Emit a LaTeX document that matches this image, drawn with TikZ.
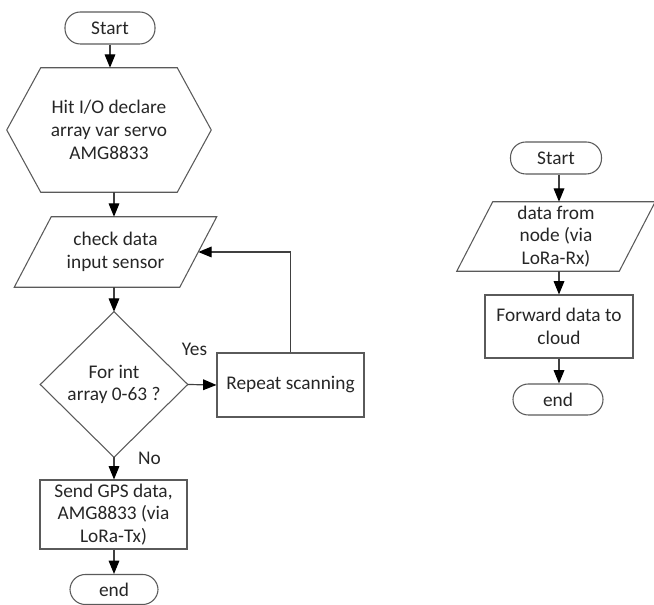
\documentclass[tikz,border=0pt]{standalone}
\usepackage{fontspec}
\setmainfont{Carlito}
\usetikzlibrary{arrows.meta,calc}
\definecolor{edge}{HTML}{5A5A5A}
\definecolor{txt}{HTML}{262626}
\definecolor{arrline}{HTML}{404040}
\tikzset{
  base/.style={font=\fontsize{14.5}{17}\selectfont, text=txt, align=center, inner sep=0pt},
  term/.style={base, draw=edge, line width=0.8pt, rounded corners=11.5pt},
  box/.style={base, draw=edge, line width=0.8pt},
  ghost/.style={base},
  shapeline/.style={draw=edge, line width=0.8pt},
  arr/.style={draw=arrline, line width=0.9pt, -{Triangle[length=10pt,width=8pt,color=black]}}
}
\begin{document}
\begin{tikzpicture}[x=0.75pt,y=-0.75pt]
\useasboundingbox (0,0) rectangle (654,605);
% left column
\node[term, minimum width=67.5pt, minimum height=24pt] (s1) at (110,28) {Start};
\node[ghost, minimum width=102pt, minimum height=93pt] (hex) at (109,130) {Hit I/O declare\\array var servo\\AMG8833};
\draw[shapeline] (hex.north west) -- (hex.north east) -- ($(hex.east)+(34,0)$) -- (hex.south east) -- (hex.south west) -- ($(hex.west)+(-34,0)$) -- cycle;
\node[ghost, minimum width=123.75pt, minimum height=52.5pt] (p1) at (115.5,252) {check data\\input sensor};
\draw[shapeline] ($(p1.north west)+(18.5,0)$) -- ($(p1.north east)+(18.5,0)$) -- ($(p1.south east)+(-18.5,0)$) -- ($(p1.south west)+(-18.5,0)$) -- cycle;
\node[ghost, minimum width=110.25pt, minimum height=108.75pt] (d) at (114,384.5) {For int\\array 0-63 ?};
\draw[shapeline] (d.north) -- (d.east) -- (d.south) -- (d.west) -- cycle;
\node[box, minimum width=110.25pt, minimum height=48pt] (r) at (290.5,385) {Repeat scanning};
\node[box, minimum width=110.25pt, minimum height=51.75pt] (g) at (113.5,514.5) {Send GPS data,\\AMG8833 (via\\LoRa-Tx)};
\node[term, minimum width=66pt, minimum height=22.5pt] (e1) at (114,589.5) {end};
\node[base] (yes) at (194.5,349) {Yes};
\node[base] (no) at (149.5,458) {No};
\draw[arr] (s1.south) -- (s1.south |- hex.north);
\draw[arr] (d.north |- hex.south) -- (d.north |- p1.north);
\draw[arr] (d.north |- p1.south) -- (d.north);
\draw[arr] (d.east) -- (r.west);
\draw[arr] (r.north) |- (p1.east);
\draw[arr] (d.south) -- (d.south |- g.north);
\draw[arr] (e1.north |- g.south) -- (e1.north);
% right column
\node[term, minimum width=68.25pt, minimum height=24pt] (s2) at (556,158) {Start};
\node[ghost, minimum width=121.5pt, minimum height=51.75pt] (p2) at (556,236.5) {data from\\node (via\\LoRa-Rx)};
\draw[shapeline] ($(p2.north west)+(18,0)$) -- ($(p2.north east)+(18,0)$) -- ($(p2.south east)+(-18,0)$) -- ($(p2.south west)+(-18,0)$) -- cycle;
\node[box, minimum width=111pt, minimum height=47.25pt] (f) at (559,326.5) {Forward data to\\cloud};
\node[term, minimum width=67.5pt, minimum height=23.25pt] (e2) at (558,399.5) {end};
\draw[arr] (f.north |- s2.south) -- (f.north |- p2.north);
\draw[arr] (f.north |- p2.south) -- (f.north);
\draw[arr] (f.south) -- (f.south |- e2.north);
\end{tikzpicture}
\end{document}
